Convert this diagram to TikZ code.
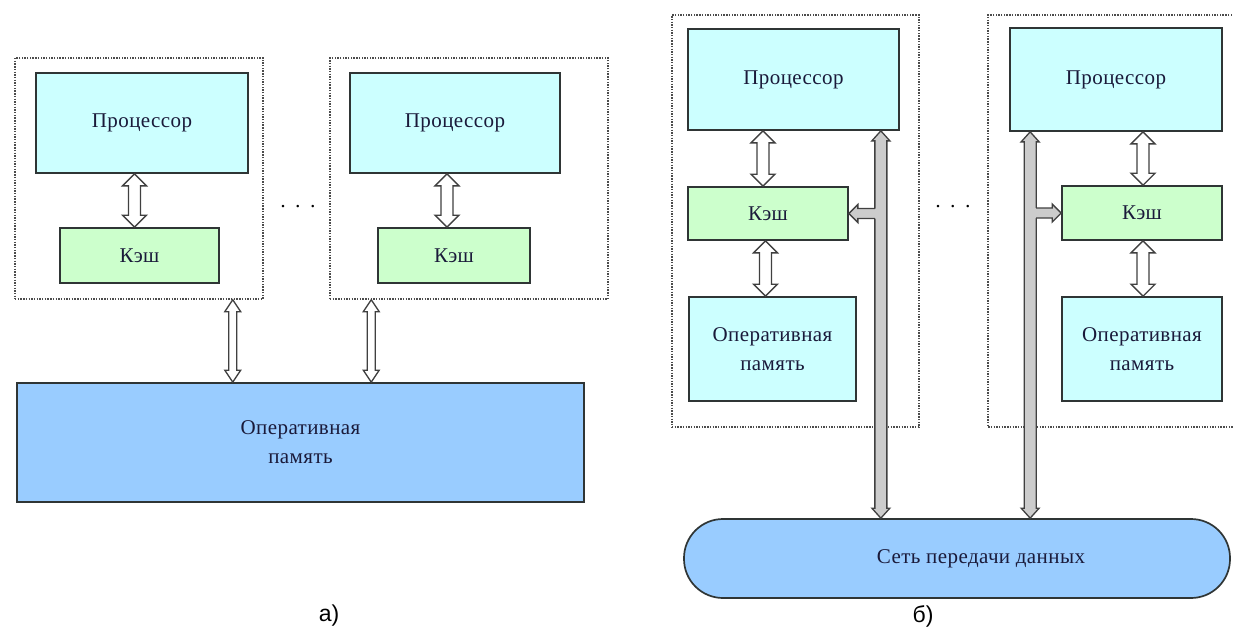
\documentclass[tikz,border=0pt]{standalone}
\usepackage{fontspec}
\setmainfont{Liberation Serif}
\newfontfamily\boxfont[LetterSpace=2]{Liberation Serif}
\newfontfamily\capfont{Liberation Sans}
\usetikzlibrary{calc}

\definecolor{procfill}{HTML}{CCFFFF}
\definecolor{cachefill}{HTML}{CCFFCC}
\definecolor{memfill}{HTML}{99CCFF}
\definecolor{inkblue}{HTML}{1A1A3A}
\definecolor{edgegray}{HTML}{2F3535}

\tikzset{
  blockbox/.style={draw=edgegray, line width=1.7pt, font=\boxfont\fontsize{21}{29}\selectfont,
    text=inkblue, align=center, inner sep=0pt},
  procbox/.style={blockbox, fill=procfill},
  cachebox/.style={blockbox, fill=cachefill},
  membox/.style={blockbox, fill=memfill},
  framebox/.style={draw=black!70, line width=1.5pt, dash pattern=on 1.4pt off 1.3pt, inner sep=0pt},
  arrowbody/.style={draw=black!75, fill=white, line width=1.3pt, line join=miter},
  busbody/.style={fill=black!20},
}

% hollow two-headed arrow: from, to, half shaft, half head, head length
\newcommand{\twoway}[6][]{%
  \draw[arrowbody,#1] let \p1=#2, \p2=#3,
      \n1={atan2(\y2-\y1,\x2-\x1)}, \n2={veclen(\x2-\x1,\y2-\y1)} in
    [shift={(\p1)}, rotate=\n1]
    (0pt,0pt) -- (#6pt,#5pt) -- (#6pt,#4pt) -- ({\n2*1pt-#6pt},#4pt) -- ({\n2*1pt-#6pt},#5pt)
    -- ({\n2*1pt},0pt) -- ({\n2*1pt-#6pt},-#5pt) -- ({\n2*1pt-#6pt},-#4pt)
    -- (#6pt,-#4pt) -- (#6pt,-#5pt) -- cycle;}

% branch off a bus: from (bus centre), to, half shaft, half head, head length, bus half width
\newcommand{\tapway}[7][]{%
  \fill[arrowbody,draw=none,#1] let \p1=#2, \p2=#3,
      \n1={atan2(\y2-\y1,\x2-\x1)}, \n2={veclen(\x2-\x1,\y2-\y1)} in
    [shift={(\p1)}, rotate=\n1]
    (0pt,#4pt) -- ({\n2*1pt-#6pt},#4pt) -- ({\n2*1pt-#6pt},#5pt) -- ({\n2*1pt},0pt)
    -- ({\n2*1pt-#6pt},-#5pt) -- ({\n2*1pt-#6pt},-#4pt) -- (0pt,-#4pt) -- cycle;
  \draw[arrowbody,fill=none] let \p1=#2, \p2=#3,
      \n1={atan2(\y2-\y1,\x2-\x1)}, \n2={veclen(\x2-\x1,\y2-\y1)} in
    [shift={(\p1)}, rotate=\n1]
    (#7pt,#4pt) -- ({\n2*1pt-#6pt},#4pt) -- ({\n2*1pt-#6pt},#5pt) -- ({\n2*1pt},0pt)
    -- ({\n2*1pt-#6pt},-#5pt) -- ({\n2*1pt-#6pt},-#4pt) -- (#7pt,-#4pt);}

\begin{document}
\begin{tikzpicture}[x=1pt, y=-1pt]
  \useasboundingbox[fill=white] (0,0) rectangle (1233,635);

  % ---- a) shared memory ----
  \node[framebox, minimum width=248, minimum height=241] (frameA1) at (139,178.5) {};
  \node[procbox, minimum width=212, minimum height=100] (procA1) at (142,123) {Процессор};
  \node[cachebox, minimum width=159, minimum height=55] (cacheA1) at (139.5,255.5) {Кэш};

  \node[framebox, minimum width=278, minimum height=241] (frameA2) at (469,178.5) {};
  \node[procbox, minimum width=210, minimum height=100] (procA2) at (455,123) {Процессор};
  \node[cachebox, minimum width=152, minimum height=55] (cacheA2) at (454,255.5) {Кэш};

  \node[font=\boxfont\fontsize{21}{21}\selectfont] (gapA) at (298,209) {·\hspace{8pt}·\hspace{8pt}·};

  \node[membox, minimum width=567, minimum height=119] (memA) at (300.5,442.5) {Оперативная\\память};

  \twoway{($(cacheA1.north |- procA1.south)+(-5,0)$)}{($(cacheA1.north)+(-5,0)$)}{6}{12}{12}
  \twoway{($(cacheA2.north |- procA2.south)+(-7,0)$)}{($(cacheA2.north)+(-7,0)$)}{6}{12}{12}

  \coordinate (portA1) at ($(frameA1.south east)+(-31,0)$);
  \coordinate (portA2) at ($(frameA2.south west)+(42,0)$);
  \twoway{(portA1)}{(portA1 |- memA.north)}{4}{8}{12}
  \twoway{(portA2)}{(portA2 |- memA.north)}{4}{8}{12}

  \node[font=\capfont\fontsize{23}{23}\selectfont] (capA) at (329,616) {а)};

  % ---- b) distributed memory ----
  \node[framebox, minimum width=247, minimum height=412] (frameB1) at (795.5,221) {};
  \node[procbox, minimum width=211, minimum height=101] (procB1) at (793.5,79.5) {Процессор};
  \node[cachebox, minimum width=160, minimum height=53] (cacheB1) at (768,213.5) {Кэш};
  \node[procbox, minimum width=167, minimum height=104] (memB1) at (772.5,349) {Оперативная\\память};

  \draw[framebox] (1240,15) -| (988,427) -- (1240,427);
  \node[procbox, minimum width=212, minimum height=103] (procB2) at (1116,79.5) {Процессор};
  \node[cachebox, minimum width=160, minimum height=54] (cacheB2) at (1142,213) {Кэш};
  \node[procbox, minimum width=160, minimum height=104] (memB2) at (1142,349) {Оперативная\\память};

  \node[font=\boxfont\fontsize{21}{21}\selectfont] (gapB) at (953,209) {·\hspace{8pt}·\hspace{8pt}·};

  \node[membox, minimum width=546, minimum height=79, rounded corners=39pt,
    label={[font=\boxfont\fontsize{21}{21}\selectfont, text=inkblue, xshift=24pt]center:Сеть передачи данных}]
    (net) at (957,558.5) {};

  \twoway{($(cacheB1.north |- procB1.south)+(-5,0)$)}{($(cacheB1.north)+(-5,0)$)}{6}{12}{12}
  \twoway{($(memB1.north |- cacheB1.south)+(-7,0)$)}{($(memB1.north)+(-7,0)$)}{6}{12}{12}
  \twoway{($(cacheB2.north |- procB2.south)+(1,0)$)}{($(cacheB2.north)+(1,0)$)}{6}{12}{12}
  \twoway{($(memB2.north |- cacheB2.south)+(1,0)$)}{($(memB2.north)+(1,0)$)}{6}{12}{12}

  % buses to the network with taps into the caches
  \coordinate (tapB1) at ($(procB1.south east)+(-19,0)$);
  \coordinate (tapB2) at ($(procB2.south west)+(21,0)$);
  \twoway[busbody]{(tapB1)}{(tapB1 |- net.north)}{6}{9}{10}
  \twoway[busbody]{(tapB2)}{(tapB2 |- net.north)}{6}{9}{10}
  \tapway[busbody]{(tapB1 |- cacheB1.east)}{(cacheB1.east)}{5}{9}{9}{6}
  \tapway[busbody]{(tapB2 |- cacheB2.west)}{(cacheB2.west)}{5}{9}{9}{6}

  \node[font=\capfont\fontsize{23}{23}\selectfont] (capB) at (923,616) {б)};
\end{tikzpicture}
\end{document}
